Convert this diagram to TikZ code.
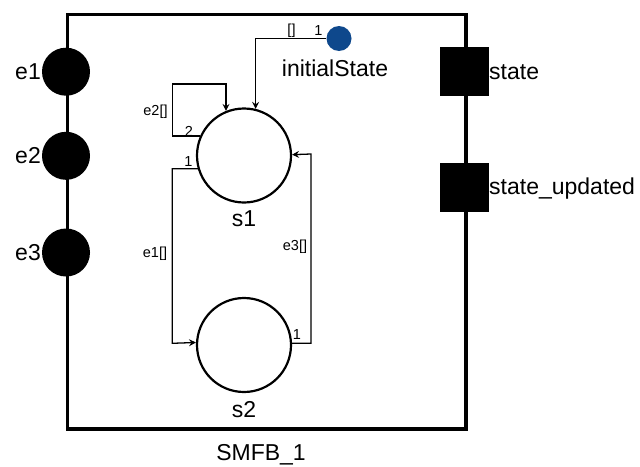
\documentclass[tikz,border=0pt]{standalone}
\usepackage{fontspec}
\setmainfont{Liberation Sans}
\usetikzlibrary{arrows.meta}
\definecolor{initblue}{RGB}{14,72,140}
\tikzset{
  big/.style={font=\fontsize{23}{27}\selectfont, inner sep=0pt},
  small/.style={font=\fontsize{14.5}{17}\selectfont, inner sep=0pt},
  inport/.style={circle, fill=black, minimum size=48pt, inner sep=0pt},
  outport/.style={rectangle, fill=black, minimum size=49pt, inner sep=0pt},
  statenode/.style={circle, draw=black, line width=2.2pt, fill=white, minimum size=94pt, inner sep=0pt},
  arr/.style={line width=1.3pt, -{Stealth[length=7pt,width=7pt,inset=2.5pt]}},
  plain/.style={line width=1.3pt}
}
\begin{document}
\begin{tikzpicture}[x=1pt,y=-1pt]
\useasboundingbox (0,0) rectangle (640,466);
% block frame
\node[draw=black, line width=3.6pt, minimum width=398.5pt, minimum height=414.5pt, inner sep=0pt, anchor=north west] (box) at (65.5,12.5) {};
% input event ports
\node[inport] (e1p) at (66,71.7) {};
\node[inport] (e2p) at (66,155.8) {};
\node[inport] (e3p) at (66,252.5) {};
\node[big, anchor=base east] (e1l) at (41,79.3) {e1};
\node[big, anchor=base east] (e2l) at (41,163.4) {e2};
\node[big, anchor=base east] (e3l) at (41,260.1) {e3};
% output ports
\node[outport] (sp) at (464.5,71.8) {};
\node[outport] (sup) at (464.5,187.3) {};
\node[big, anchor=base west] (sl) at (489,79.3) {state};
\node[big, anchor=base west] (sul) at (489,194.8) {state\_updated};
% states
\node[statenode] (s1) at (244,155.5) {};
\node[statenode] (s2) at (244,345) {};
\node[big, anchor=base] (s1l) at (244,226.5) {s1};
\node[big, anchor=base] (s2l) at (244,417) {s2};
% initial state
\node[circle, fill=initblue, minimum size=25pt, inner sep=0pt] (init) at (339,38.5) {};
\node[big, anchor=base] (initl) at (335,76) {initialState};
% block name
\node[big, anchor=base] (name) at (261,460.5) {SMFB\_1};
% transitions
\coordinate (loopc) at (172.3,84);
\coordinate (e1c) at (172.3,343.3);
\coordinate (e3c) at (311,154);
\draw[arr] (init.west) -- (init.west -| s1.76.5) -- (s1.76.5);
\draw[arr] (s1.156.8) -| (loopc) -| (s1.112.5);
\draw[arr] (s1.196.7) -| (e1c) -- (s2.177.9);
\draw[arr] (s2.2.1) -| (e3c) -- (s1.1.8);
% transition labels
\node[small] (t0a) at (291.5,31) {[]};
\node[small] (t0b) at (318.5,31) {1};
\node[small] (t2a) at (155.5,111.5) {e2[]};
\node[small] (t2b) at (189,131) {2};
\node[small] (t1b) at (188.5,162) {1};
\node[small] (t1a) at (155,253.5) {e1[]};
\node[small] (t3a) at (295,247) {e3[]};
\node[small] (t3b) at (297,335) {1};
\end{tikzpicture}
\end{document}
